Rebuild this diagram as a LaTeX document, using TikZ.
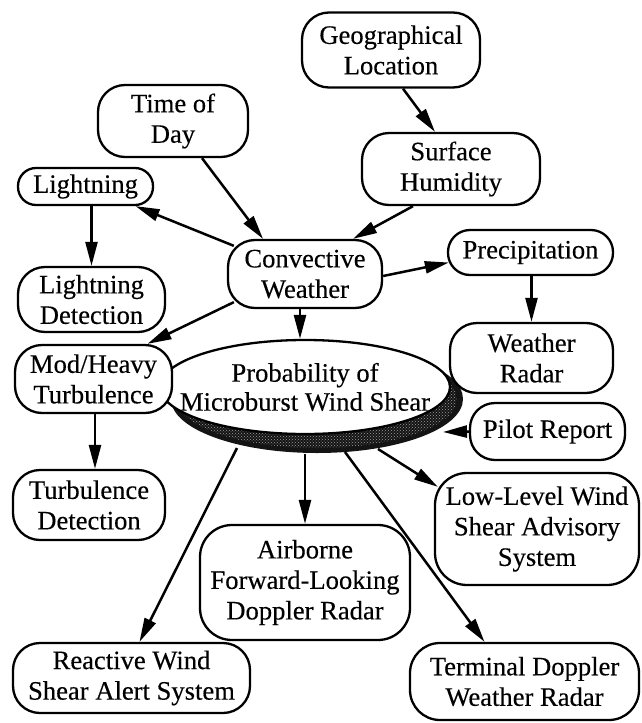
\documentclass[tikz,border=0pt]{standalone}
\usepackage{fontspec}
\setmainfont{Liberation Serif}[FakeBold=0.3]
\usetikzlibrary{shapes.geometric,patterns,arrows.meta}
\begin{document}
\begin{tikzpicture}[x=1pt,y=-1pt,
  box/.style={draw, line width=2.3pt, fill=white, rounded corners=27pt,
    align=center, inner sep=0pt, font=\fontsize{26.6}{30.5}\selectfont},
  oval/.style={draw, line width=2.3pt, fill=white, ellipse, align=center,
    inner xsep=-32pt, inner ysep=0pt, font=\fontsize{26.6}{29}\selectfont},
  link/.style={line width=2.5pt, -{Triangle[length=24pt,width=12pt]}}]

\fill[white] (0,0) rectangle (642,723);
\useasboundingbox (0,0) rectangle (642,723);

% dark speckled shadow under the central oval
\fill[black!92] (317,399) ellipse [x radius=146pt, y radius=54pt];
\fill[pattern=crosshatch dots, pattern color=gray!75] (317,399) ellipse [x radius=140pt, y radius=49pt];

% central concept
\node[oval, minimum width=290pt, minimum height=94pt] (prob) at (305,387)
  {Probability of\\Microburst Wind Shear};

% contributing factors and detection systems
\node[box, minimum width=178pt, minimum height=75pt] (geo) at (391,50) {Geographical\\Location};
\node[box, minimum width=150pt, minimum height=72pt] (tod) at (173,121) {Time of\\Day};
\node[box, minimum width=178pt, minimum height=72pt] (hum) at (451,169) {Surface\\Humidity};
\node[box, rounded corners=18pt, minimum width=135pt, minimum height=37pt] (lig) at (85.5,186.5) {Lightning};
\node[box, minimum width=154pt, minimum height=68pt] (conv) at (305,274) {Convective\\Weather};
\node[box, rounded corners=22pt, minimum width=165pt, minimum height=45pt] (pre) at (530.5,252.5) {Precipitation};
\node[box, minimum width=147pt, minimum height=65pt] (ldet) at (91.5,299.5) {Lightning\\Detection};
\node[box, minimum width=163pt, minimum height=70pt] (wr) at (531.5,358) {Weather\\Radar};
\node[box, minimum width=157pt, minimum height=68pt] (mod) at (93.5,379) {Mod/Heavy\\Turbulence};
\node[box, rounded corners=25pt, minimum width=155pt, minimum height=57pt] (pil) at (547.5,431.5) {Pilot Report};
\node[box, minimum width=152pt, minimum height=70pt] (turb) at (89,505) {Turbulence\\Detection};
\node[box, rounded corners=32pt, minimum width=210pt, minimum height=115pt] (airb) at (305,582.5) {Airborne\\Forward-Looking\\Doppler Radar};
\node[box, rounded corners=32pt, minimum width=204pt, minimum height=112pt] (low) at (537,529) {Low-Level Wind\\Shear Advisory\\System};
\node[box, minimum width=237pt, minimum height=70pt] (rws) at (131.5,678) {Reactive Wind\\Shear Alert System};
\node[box, rounded corners=30pt, minimum width=229pt, minimum height=77pt] (tdwr) at (524.5,681.5) {Terminal Doppler\\Weather Radar};

% influences
\draw[link] ([xshift=12pt]geo.south) -- ([xshift=-16pt]hum.north);
\draw[link] ([xshift=-38pt]hum.south) -- ([xshift=48pt]conv.north);
\draw[link] ([xshift=29pt]tod.south) -- ([xshift=-42pt]conv.north);
\draw[link] ([xshift=7pt,yshift=-7pt]conv.north west) -- ([xshift=50pt]lig.south);
\draw[link] ([xshift=6pt]lig.south) -- (ldet.north);
\draw[link] ([xshift=7pt,yshift=7pt]conv.south west) -- ([xshift=54pt]mod.north);
\draw[link] ([xshift=-5pt]conv.south) -- ([xshift=-5pt]prob.north);
\draw[link] ([yshift=-2pt]conv.east) -- ([xshift=2pt,yshift=-10pt]pre.west);
\draw[link] ([xshift=1pt]pre.south) -- (wr.north);
\draw[link] ([xshift=1.5pt]mod.south) -- ([xshift=6pt]turb.north);
\draw[link] (pil.west) -- ([shift={(138pt,-45pt)}]prob.center);

% detection systems fed by the central concept
\draw[link] ([shift={(-68pt,-61pt)}]prob.center) -- ([xshift=8pt]rws.north);
\draw[link] ([yshift=-19pt]prob.south) -- (airb.north);
\draw[link] ([shift={(73pt,-62pt)}]prob.center) -- ([xshift=4pt,yshift=-15pt]low.north west);
\draw[link] ([shift={(40pt,-65pt)}]prob.center) -- ([xshift=-40pt]tdwr.north);
\end{tikzpicture}
\end{document}
